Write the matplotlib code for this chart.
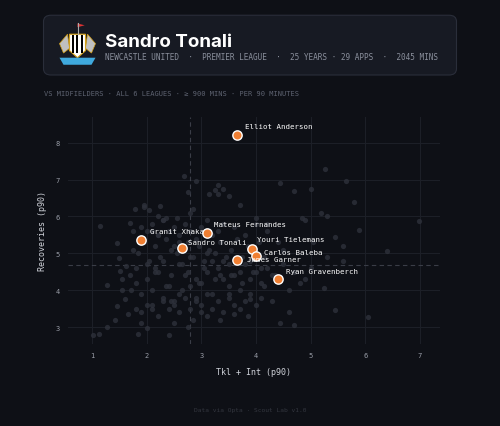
import matplotlib
matplotlib.use("Agg")
import matplotlib.pyplot as plt
from matplotlib.patches import FancyBboxPatch, Polygon, Rectangle

bg_x = [1.02,1.12,1.27,1.15,1.27,1.42,1.45,1.45,1.5,1.52,1.55,1.55,1.6,1.62,1.65,1.7,1.72,1.75,1.78,1.8,1.85,1.9,1.95,1.95,2.0,2.05,2.1,2.15,2.2,2.25,2.3,2.35,2.4,2.45,2.5,2.55,2.6,2.68,2.75,2.8,2.85,2.9,2.75,2.85,3.0,3.1,3.15,3.25,3.3,3.4,3.5,3.3,3.35,3.5,3.6,3.7,3.85,3.9,4.0,4.2,4.3,4.45,4.45,4.5,4.6,4.7,4.7,4.85,4.9,5.0,5.05,5.2,5.25,5.27,5.3,5.3,5.45,5.45,5.6,5.6,5.65,5.8,5.88,6.05,6.4,6.98,
        1.7,1.8,1.9,2.0,2.1,2.2,2.3,2.4,2.5,2.6,2.7,2.8,2.9,3.0,3.1,3.2,3.3,3.4,3.5,3.6,3.7,3.8,3.9,4.0,4.1,4.2,
        1.75,1.85,1.95,2.05,2.15,2.25,2.35,2.45,2.55,2.65,2.75,2.85,2.95,3.05,3.15,3.25,3.35,3.45,3.55,3.65,3.75,3.85,3.95,4.05,4.15,
        1.8,1.9,2.0,2.1,2.2,2.3,2.4,2.5,2.6,2.7,2.8,2.9,3.0,3.1,3.2,3.3,3.4,3.5,3.6,3.7,3.8,3.9,4.0,4.1,
        1.9,2.0,2.1,2.2,2.3,2.4,2.5,2.6,2.7,2.8,2.9,3.0,3.1,3.2,3.3,3.4,3.6,3.8,4.0,4.2,4.4,
        2.0,2.15,2.3,2.45,2.6,2.75,2.9,3.05,3.2,3.35,3.5,3.7,3.9,4.1,4.3,4.5,4.7,4.9,
        2.1,2.2,2.35,2.5,2.65,2.8,2.95,3.1,3.25,3.4,3.55,3.75,3.95,4.15,4.35,4.6,4.8,5.0]
bg_y = [2.78,2.82,3.0,5.75,4.15,3.2,3.58,5.28,4.88,4.52,4.3,4.0,3.75,4.65,3.35,5.82,4.0,5.6,6.2,4.6,2.8,3.1,6.3,6.25,2.98,6.18,5.6,4.5,6.0,6.28,5.9,5.95,2.78,3.7,3.1,5.95,5.3,7.1,6.65,6.1,6.2,6.95,3.0,3.2,3.4,3.3,6.6,6.72,6.85,6.75,6.55,6.6,3.2,3.9,3.35,6.3,3.3,3.75,5.95,5.8,3.7,6.9,3.1,5.1,3.4,3.05,6.7,5.95,5.9,6.75,5.3,6.1,4.05,7.28,6.0,4.9,5.45,3.45,5.2,4.8,6.95,6.4,5.62,3.28,5.05,5.88,
        4.4,4.2,3.9,4.3,3.6,4.5,3.8,4.1,3.7,3.9,4.4,4.1,3.8,4.2,4.5,3.9,4.6,4.3,4.1,4.4,4.0,4.7,4.3,4.5,4.2,4.6,
        5.1,5.0,5.3,4.8,5.2,4.9,5.4,5.1,5.0,4.7,5.3,4.9,5.2,4.8,5.1,5.0,5.3,4.9,5.1,5.4,4.9,5.2,5.0,5.3,4.9,
        3.5,3.4,3.6,3.5,3.3,3.7,3.5,3.6,3.4,3.8,3.5,3.7,3.6,3.9,3.5,3.7,3.4,3.8,3.6,3.5,3.7,3.9,3.6,3.8,
        5.7,5.6,5.8,5.5,5.9,5.6,5.7,5.5,5.8,5.6,5.4,5.7,5.9,5.5,5.6,5.8,5.7,5.5,5.8,5.6,5.3,
        4.7,4.6,4.8,4.4,4.7,4.5,4.3,4.6,4.8,4.4,4.7,4.5,4.8,4.6,4.4,4.7,4.5,4.3,
        4.0,5.5,4.1,5.2,4.0,4.9,4.2,5.0,4.3,4.8,4.4,4.2,4.5,4.1,4.4,4.0,4.2,4.6]

hl_names = ["Elliot Anderson","Mateus Fernandes","Granit Xhaka","Sandro Tonali","Youri Tielemans","Carlos Baleba","James Garner","Ryan Gravenberch"]
hl_x = [3.65,3.1,1.9,2.65,3.92,4.0,3.65,4.4]
hl_y = [8.22,5.55,5.37,5.14,5.12,4.94,4.82,4.29]
med_x, med_y = 2.8, 4.67
lab_off = [(6,5),(5,5),(6,5),(4,3),(4,6),(6,1),(7,-1),(6,5)]

BG = "#0e1016"
fig = plt.figure(figsize=(5,4.27), dpi=100, facecolor=BG)
mono = "DejaVu Sans Mono"

card = FancyBboxPatch((0.087,0.822),0.826,0.14, boxstyle="round,pad=0,rounding_size=0.015",
                      transform=fig.transFigure, fc="#171a23", ec="#2a2e3a", lw=0.8, zorder=-5)
fig.patches.append(card)
lax = fig.add_axes([0.115,0.835,0.08,0.11], zorder=3); lax.axis("off"); lax.set_xlim(0,1); lax.set_ylim(0,1)
lax.add_patch(Polygon([[0.3,0.75],[0.7,0.75],[0.7,0.4],[0.5,0.25],[0.3,0.4]], fc="white", ec="#d4a017", lw=0.8))
for i in range(3):
    lax.add_patch(Rectangle((0.36+i*0.11,0.35),0.05,0.38, fc="black"))
lax.add_patch(Polygon([[0.25,0.75],[0.05,0.55],[0.15,0.35],[0.3,0.45]], fc="#c0c0c0", ec="#d4a017", lw=0.5))
lax.add_patch(Polygon([[0.75,0.75],[0.95,0.55],[0.85,0.35],[0.7,0.45]], fc="#c0c0c0", ec="#d4a017", lw=0.5))
lax.add_patch(Polygon([[0.05,0.25],[0.95,0.25],[0.85,0.1],[0.15,0.1]], fc="#3fa9dd"))
lax.plot([0.5,0.5],[0.75,0.98],color="#aaa",lw=0.8)
lax.add_patch(Polygon([[0.5,0.98],[0.68,0.94],[0.5,0.9]], fc="#d33"))

fig.text(0.21,0.9,"Sandro Tonali",color="white",fontsize=13.5,fontweight="bold",family="Inter",va="center")
fig.text(0.21,0.865,"NEWCASTLE UNITED  ·  PREMIER LEAGUE  ·  25 YEARS · 29 APPS  ·  2045 MINS",
         color="#8a8f9c",fontsize=5.6,family=mono,va="center")
fig.text(0.087,0.78,"VS MIDFIELDERS · ALL 6 LEAGUES · ≥ 900 MINS · PER 90 MINUTES",
         color="#5d6270",fontsize=5,family=mono,va="center")
fig.text(0.5,0.035,"Data via Opta · Scout Lab v1.0",color="#33363f",fontsize=4.5,family=mono,ha="center")

ax = fig.add_axes([0.136,0.192,0.744,0.532], facecolor=BG)
for s in ax.spines.values(): s.set_visible(False)
ax.set_xlim(0.56,7.37); ax.set_ylim(2.54,8.7)
ax.set_xticks(range(1,8)); ax.set_yticks(range(3,9))
ax.grid(color="#1c1f27", lw=0.8)
ax.tick_params(colors="#9a9ea8", labelsize=5, length=0, pad=6)
for l in ax.get_xticklabels()+ax.get_yticklabels(): l.set_family(mono)
ax.axvline(med_x,color="#3a3d47",ls=(0,(4,3)),lw=0.8)
ax.axhline(med_y,color="#3a3d47",ls=(0,(4,3)),lw=0.8)
ax.scatter(bg_x,bg_y,s=14,color="#2e313b",alpha=0.8,lw=0,zorder=2)
ax.scatter(hl_x,hl_y,s=45,color="#f07f32",edgecolor="white",lw=1.0,zorder=4)
for n,x,y,o in zip(hl_names,hl_x,hl_y,lab_off):
    ax.annotate(n,(x,y),xytext=o,textcoords="offset points",color="white",fontsize=5.3,family=mono,zorder=5)
ax.set_xlabel("Tkl + Int (p90)",color="#d0d3da",fontsize=6,family=mono,labelpad=6)
ax.set_ylabel("Recoveries (p90)",color="#d0d3da",fontsize=6,family=mono,labelpad=6)
fig.savefig("out.png",dpi=100,facecolor=BG)
